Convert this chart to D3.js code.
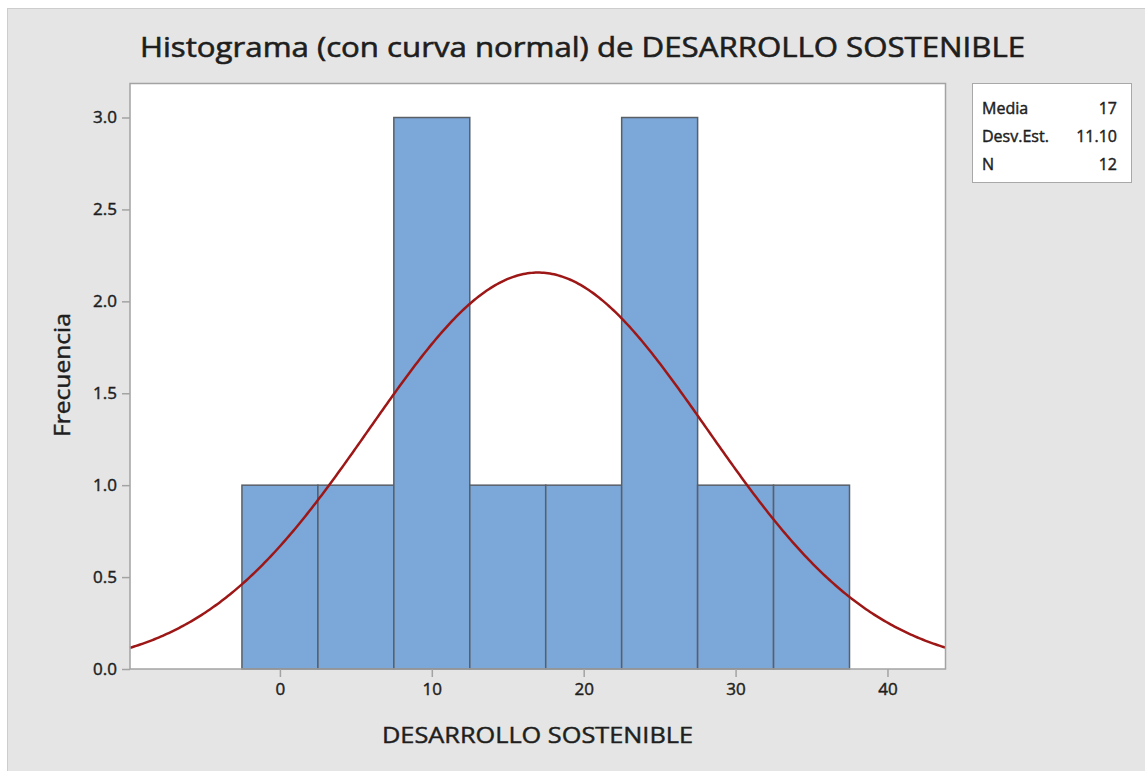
<!DOCTYPE html>
<html>
<head>
<meta charset="utf-8">
<script src="https://cdn.jsdelivr.net/npm/d3@7"></script>
<style>
  html, body { margin: 0; padding: 0; background: #ffffff; }
  svg { display: block; }
  text { font-family: "Open Sans", "Noto Sans", sans-serif; fill: #1e1e1e; font-weight: 400;
         stroke: #1e1e1e; stroke-width: 0.45px; }
</style>
</head>
<body>
<svg id="chart" width="1145" height="771"></svg>
<script>
// ---- data ----
const binCenters = [0, 5, 10, 15, 20, 25, 30, 35];
const binCounts  = [1, 1, 3, 1, 1, 3, 1, 1];
const binWidth = 5;
const xTicks = [0, 10, 20, 30, 40];
const yTicks = [0.0, 0.5, 1.0, 1.5, 2.0, 2.5, 3.0];
const statLabels = ["Media", "Desv.Est.", "N"];
const statValues = ["17", "11.10", "12"];
const mean = 17, sd = 11.10, n = 12;
const titleText = "Histograma (con curva normal) de DESARROLLO SOSTENIBLE";
const xLabel = "DESARROLLO SOSTENIBLE";
const yLabel = "Frecuencia";

// ---- layout ----
const svg = d3.select("#chart");
const plot = { left: 130, right: 945.5, top: 83.5, bottom: 669 };

svg.append("rect").attr("x", 7.5).attr("y", 8.5).attr("width", 1145).attr("height", 771)
  .attr("fill", "#e5e5e5").attr("stroke", "#cdcdcd").attr("stroke-width", 1);

const x = d3.scaleLinear().domain([-9.87, 43.82]).range([plot.left, plot.right]);
const y = d3.scaleLinear().domain([0, 3.185]).range([plot.bottom, plot.top]);

svg.append("rect").attr("x", plot.left).attr("y", plot.top)
  .attr("width", plot.right - plot.left).attr("height", plot.bottom - plot.top)
  .attr("fill", "#ffffff");

// bars
svg.append("g").selectAll("rect").data(binCenters).join("rect")
  .attr("x", (d) => x(d - binWidth / 2))
  .attr("y", (d, i) => y(binCounts[i]))
  .attr("width", (d) => x(d + binWidth / 2) - x(d - binWidth / 2))
  .attr("height", (d, i) => y(0) - y(binCounts[i]))
  .attr("fill", "#7ba7d9").attr("stroke", "#5a5f66").attr("stroke-width", 1.5);

// normal curve
const [x0, x1] = x.domain();
const pts = d3.range(0, 401).map(k => {
  const xv = x0 + (x1 - x0) * k / 400;
  const yv = n * binWidth * Math.exp(-0.5 * ((xv - mean) / sd) ** 2) / (sd * Math.sqrt(2 * Math.PI));
  return [xv, yv];
});
svg.append("path").datum(pts)
  .attr("d", d3.line().x(d => x(d[0])).y(d => y(d[1])))
  .attr("fill", "none").attr("stroke", "#9e1717").attr("stroke-width", 2.5);

// plot frame
svg.append("rect").attr("x", plot.left).attr("y", plot.top)
  .attr("width", plot.right - plot.left).attr("height", plot.bottom - plot.top)
  .attr("fill", "none").attr("stroke", "#a3a3a3").attr("stroke-width", 1.5);

// axes
const xAxis = svg.append("g").attr("transform", `translate(0,${plot.bottom})`)
  .call(d3.axisBottom(x).tickValues(xTicks).tickSize(8).tickPadding(6).tickFormat(d3.format("d")));
const yAxis = svg.append("g").attr("transform", `translate(${plot.left},0)`)
  .call(d3.axisLeft(y).tickValues(yTicks).tickSize(8).tickPadding(5).tickFormat(d3.format(".1f")));
[xAxis, yAxis].forEach(g => {
  g.select(".domain").remove();
  g.selectAll(".tick line").attr("stroke", "#a3a3a3").attr("stroke-width", 1.5);
  g.selectAll(".tick text").attr("font-size", 17).attr("fill", "#222").attr("stroke", "#222")
    .attr("font-family", "'Open Sans', sans-serif");
});

// title
svg.append("text").attr("x", 582.5).attr("y", 57).attr("text-anchor", "middle")
  .attr("font-size", 28).attr("textLength", 885).attr("lengthAdjust", "spacingAndGlyphs")
  .style("stroke-width", "0.6px")
  .text(titleText);

// axis labels
svg.append("text").attr("x", 537.5).attr("y", 743).attr("text-anchor", "middle")
  .attr("font-size", 22).attr("textLength", 311).attr("lengthAdjust", "spacingAndGlyphs")
  .text(xLabel);
svg.append("text").attr("transform", "translate(70,375) rotate(-90)").attr("text-anchor", "middle")
  .attr("font-size", 22).attr("textLength", 124).attr("lengthAdjust", "spacingAndGlyphs")
  .text(yLabel);

// stats box
const lg = svg.append("g");
lg.append("rect").attr("x", 972.5).attr("y", 83.5).attr("width", 159).attr("height", 99)
  .attr("fill", "#ffffff").attr("stroke", "#a8a8a8").attr("stroke-width", 1);
statLabels.forEach((s, i) => {
  lg.append("text").attr("x", 982).attr("y", 114 + i * 28).attr("font-size", 16).text(s);
  lg.append("text").attr("x", 1117).attr("y", 114 + i * 28).attr("font-size", 16)
    .attr("text-anchor", "end").text(statValues[i]);
});
</script>
</body>
</html>
